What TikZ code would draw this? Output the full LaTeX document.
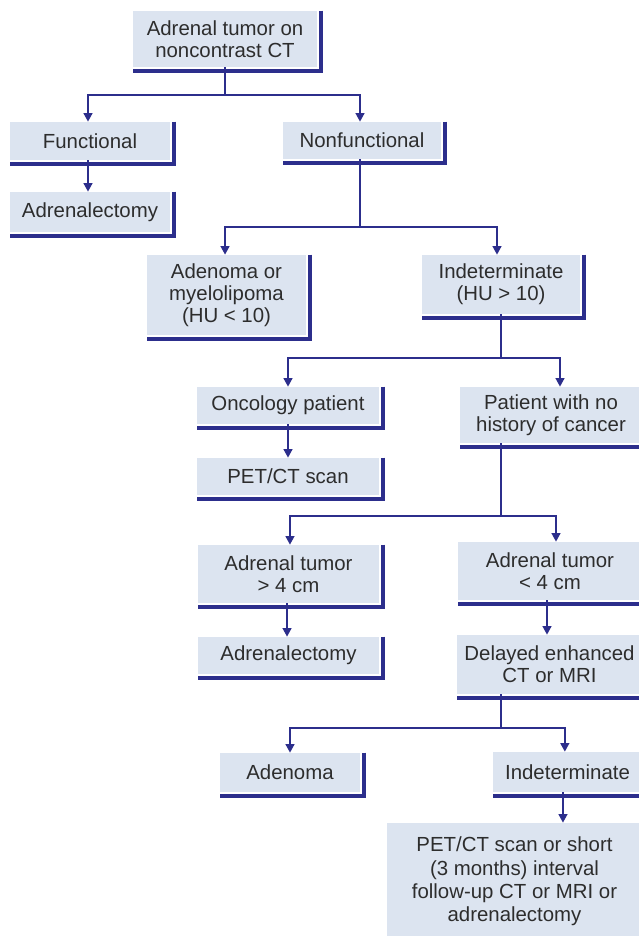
\documentclass[tikz,border=0pt]{standalone}
\usepackage{fontspec}
\setmainfont{Liberation Sans}
\usetikzlibrary{arrows.meta}
\definecolor{navy}{RGB}{44,46,140}
\definecolor{boxfill}{RGB}{220,228,240}
\definecolor{txt}{RGB}{45,45,45}
\tikzset{
  box/.style={fill=boxfill, text=txt, inner sep=0pt, align=center,
    font=\fontsize{15.3}{16.6}\selectfont},
  brd/.style={draw=navy, line width=2.5pt},
  ln/.style={draw=navy, line width=1.9pt},
  arr/.style={ln, -{Triangle[width=6.5pt,length=6.5pt]}},
}
\newcommand{\bx}[6]{%
  \node[box, minimum width=#4*0.75pt, minimum height=#5*0.75pt] (#1) at (#2,#3) {#6};}
\newcommand{\brdr}[1]{%
  \draw[brd] ([xshift=2.7pt]#1.north east) -- ([shift={(2.7pt,-2.7pt)}]#1.south east) -- ([yshift=-2.7pt]#1.south west);}
\begin{document}
\begin{tikzpicture}[x=0.75pt,y=-0.75pt]
\useasboundingbox (0,0) rectangle (639,936);
\clip (0,0) rectangle (639,936);
\fill[white] (0,0) rectangle (639,936);

\bx{top}{225}{39}{184}{56}{Adrenal tumor on\\noncontrast CT}
\bx{func}{90}{141}{160}{38}{Functional}
\bx{adr1}{90}{212}{160}{40}{Adrenalectomy}
\bx{nonf}{362}{140.5}{158}{37}{Nonfunctional}
\bx{ad1}{226.5}{295}{159}{80}{Adenoma or\\myelolipoma\\(HU < 10)}
\bx{ind1}{501}{284.5}{158}{59}{Indeterminate\\(HU > 10)}
\bx{onc}{288}{405.5}{182}{37}{Oncology patient}
\bx{pet}{288}{476.5}{182}{37}{PET/CT scan}
\bx{pat}{551}{415}{182}{56}{Patient with no\\history of cancer}
\bx{gt4}{288.5}{574}{181}{58}{Adrenal tumor\\> 4 cm}
\bx{adr2}{288.5}{655.5}{181}{37}{Adrenalectomy}
\bx{lt4}{550}{571}{184}{58}{Adrenal tumor\\< 4 cm}
\bx{del}{549.5}{664.5}{185}{59}{Delayed enhanced\\CT or MRI}
\bx{ad2}{290}{772.5}{140}{39}{Adenoma}
\bx{ind2}{567.5}{772}{149}{40}{Indeterminate}
\node[box, minimum width=255*0.75pt, minimum height=117*0.75pt,
  font=\fontsize{15.3}{17.6}\selectfont] (last) at (514.5,881.5)
  {PET/CT scan or short\\(3 months) interval\\follow-up CT or MRI or\\adrenalectomy};

\foreach \n in {top,func,adr1,nonf,ad1,ind1,onc,pet,pat,gt4,adr2,lt4,del,ad2,ind2}{\brdr{\n}}

% connectors
\coordinate (j1) at (225,95);
\draw[ln] (top.south) -- (j1);
\draw[arr] (j1) -| ([xshift=-1.5pt]func.north);
\draw[arr] (j1) -| ([xshift=-1.5pt]nonf.north);
\draw[arr] ([xshift=-1.5pt]func.south) -- ([xshift=-1.5pt]adr1.north);

\coordinate (j2) at (360,227);
\draw[ln] ([xshift=-1.5pt]nonf.south) -- (j2);
\draw[arr] (j2) -| ([xshift=-1.1pt]ad1.north);
\draw[arr] (j2) -| ([xshift=-3pt]ind1.north);

\coordinate (j3) at (501,358);
\draw[ln] (ind1.south) -- (j3);
\draw[arr] (j3) -| (onc.north);
\draw[arr] (j3) -| ([xshift=6.75pt]pat.north);
\draw[arr] (onc.south) -- (pet.north);

\coordinate (j4) at (501,516);
\draw[ln] (pat.south -| j4) -- (j4);
\draw[arr] (j4) -| ([xshift=1.1pt]gt4.north);
\draw[arr] (j4) -| ([xshift=4.5pt]lt4.north);
\draw[arr] ([xshift=-1.1pt]gt4.south) -- ([xshift=-1.1pt]adr2.north);
\coordinate (c1) at ([xshift=-2.25pt]lt4.south);
\draw[arr] (c1) -- (c1 |- del.north);

\coordinate (j5) at (501,728);
\draw[ln] (del.south -| j5) -- (j5);
\draw[arr] (j5) -| (ad2.north);
\draw[arr] (j5) -| ([xshift=-2pt]ind2.north);
\coordinate (c2) at ([xshift=-3.4pt]ind2.south);
\draw[arr] (c2) -- (c2 |- last.north);
\end{tikzpicture}
\end{document}
